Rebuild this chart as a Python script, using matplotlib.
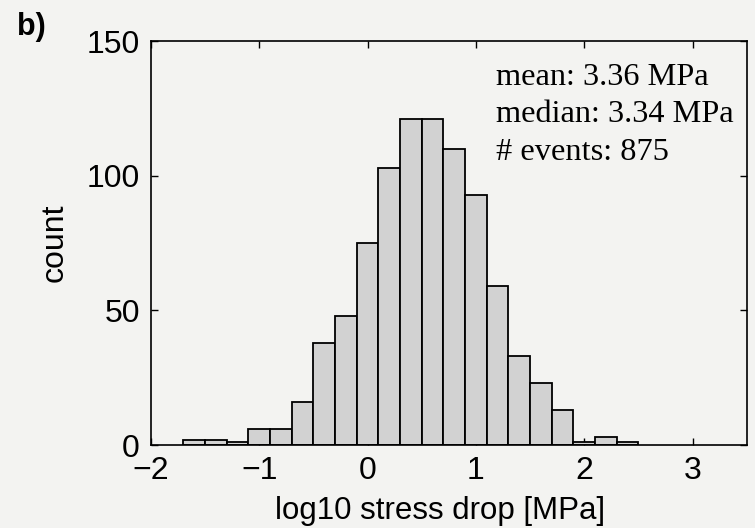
import numpy as np
import matplotlib
matplotlib.use('Agg')
import matplotlib.pyplot as plt

# histogram of log10 stress drop, bin width 0.2
bin_centers = [-1.6, -1.4, -1.2, -1.0, -0.8, -0.6, -0.4, -0.2, 0.0, 0.2, 0.4,
               0.6, 0.8, 1.0, 1.2, 1.4, 1.6, 1.8, 2.0, 2.2, 2.4]
counts = [2, 2, 1, 6, 6, 16, 38, 48, 75, 103, 121,
          121, 110, 93, 59, 33, 23, 13, 1, 3, 1]
bin_width = 0.2

x_ticks = [-2, -1, 0, 1, 2, 3]
y_ticks = [0, 50, 100, 150]
stats_lines = ['mean: 3.36 MPa', 'median: 3.34 MPa', '# events: 875']

PAPER = '#f3f3f1'
BAR = '#d2d2d2'

plt.rcParams['font.family'] = ['Liberation Sans', 'DejaVu Sans']

fig = plt.figure(figsize=(7.55, 5.28), dpi=100, facecolor=PAPER)
ax = fig.add_axes([0.2, 0.157, 0.789, 0.765])
ax.set_facecolor(PAPER)

ax.bar(bin_centers, counts, width=bin_width, color=BAR, edgecolor='black',
       linewidth=1.3, zorder=2)

ax.set_xlim(-2, 3.5)
ax.set_ylim(0, 150)
ax.set_xticks(x_ticks)
ax.set_yticks(y_ticks)
ax.set_xticklabels([str(t).replace('-', '\u2212') for t in x_ticks])

ax.tick_params(direction='in', length=5, width=1.0, labelsize=23,
               top=True, right=True)
ax.tick_params(axis='x', pad=8)
ax.tick_params(axis='y', pad=8)
for s in ax.spines.values():
  s.set_linewidth(1.2)

ax.set_xlabel('log10 stress drop [MPa]', fontsize=22.5, labelpad=5)
ax.xaxis.set_label_coords(0.485, -0.125)
ax.set_ylabel('count', fontsize=23, labelpad=12)

ax.text(0.579, 0.947, '\n'.join(stats_lines), transform=ax.transAxes,
        ha='left', va='top', fontsize=23.3, family='Liberation Serif',
        linespacing=1.4)

fig.text(0.023, 0.978, 'b)', fontsize=22, fontweight='bold', ha='left', va='top')

fig.savefig('out.png', dpi=100, facecolor=PAPER)
